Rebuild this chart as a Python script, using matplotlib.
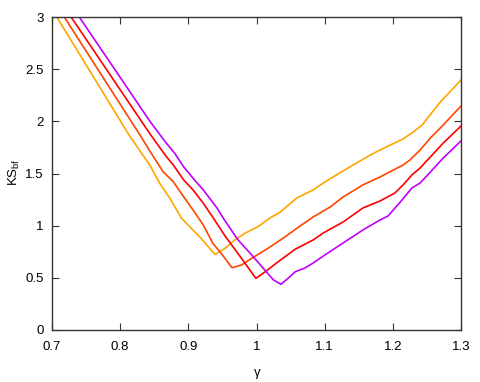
import matplotlib
matplotlib.use("Agg")
import matplotlib.pyplot as plt

# curve 1 (orange)
x_orange = [0.707, 0.813, 0.844, 0.858, 0.873, 0.890, 0.902, 0.917, 0.939, 0.954,
            0.968, 0.983, 1.002, 1.020, 1.035, 1.059, 1.083, 1.098, 1.122, 1.147,
            1.167, 1.181, 1.215, 1.230, 1.243, 1.258, 1.271, 1.300]
y_orange = [3.000, 1.869, 1.575, 1.406, 1.262, 1.071, 0.990, 0.890, 0.724, 0.783,
            0.863, 0.927, 0.990, 1.074, 1.131, 1.265, 1.342, 1.409, 1.505, 1.601,
            1.677, 1.725, 1.831, 1.898, 1.965, 2.090, 2.195, 2.396]

# curve 2 (orange-red)
x_orangered = [0.718, 0.829, 0.844, 0.863, 0.878, 0.893, 0.907, 0.922, 0.936, 0.949,
               0.964, 0.978, 0.993, 1.017, 1.042, 1.057, 1.083, 1.108, 1.127, 1.156,
               1.181, 1.215, 1.225, 1.240, 1.255, 1.274, 1.300]
y_orangered = [3.000, 1.869, 1.710, 1.517, 1.421, 1.278, 1.150, 1.006, 0.830, 0.728,
               0.597, 0.623, 0.687, 0.783, 0.894, 0.965, 1.083, 1.179, 1.275, 1.390,
               1.466, 1.581, 1.629, 1.725, 1.840, 1.965, 2.147]

# curve 3 (red)
x_red = [0.728, 0.844, 0.866, 0.878, 0.893, 0.907, 0.922, 0.937, 0.954, 0.978,
         0.999, 1.013, 1.032, 1.057, 1.083, 1.098, 1.127, 1.156, 1.181, 1.203,
         1.215, 1.228, 1.240, 1.255, 1.274, 1.300]
y_red = [3.000, 1.877, 1.677, 1.581, 1.440, 1.342, 1.214, 1.070, 0.900, 0.687,
         0.495, 0.559, 0.655, 0.775, 0.863, 0.930, 1.035, 1.169, 1.236, 1.313,
         1.390, 1.486, 1.553, 1.658, 1.792, 1.955]

# curve 4 (purple)
x_purple = [0.740, 0.844, 0.866, 0.880, 0.893, 0.907, 0.922, 0.942, 0.952, 0.973,
            0.993, 1.010, 1.025, 1.036, 1.049, 1.057, 1.071, 1.083, 1.098, 1.127,
            1.156, 1.181, 1.193, 1.211, 1.228, 1.240, 1.255, 1.274, 1.300]
y_purple = [3.000, 1.997, 1.805, 1.694, 1.565, 1.454, 1.342, 1.170, 1.064, 0.863,
            0.719, 0.591, 0.479, 0.438, 0.511, 0.559, 0.594, 0.642, 0.709, 0.834,
            0.958, 1.054, 1.093, 1.227, 1.361, 1.409, 1.514, 1.649, 1.812]

x_ticks = [0.7, 0.8, 0.9, 1.0, 1.1, 1.2, 1.3]
x_ticklabels = ["0.7", "0.8", "0.9", "1", "1.1", "1.2", "1.3"]
y_ticks = [0, 0.5, 1, 1.5, 2, 2.5, 3]
y_ticklabels = ["0", "0.5", "1", "1.5", "2", "2.5", "3"]

plt.rcParams["font.family"] = ["Liberation Sans", "DejaVu Sans"]
plt.rcParams["mathtext.fontset"] = "custom"
plt.rcParams["mathtext.rm"] = "Liberation Sans"

fig = plt.figure(figsize=(4.8, 3.82), dpi=100)
ax = fig.add_axes([52 / 480, 1 - 330 / 382, (461 - 52) / 480, (330 - 17) / 382])

ax.plot(x_orange, y_orange, color="#FFA500", lw=1.2)
ax.plot(x_orangered, y_orangered, color="#FF4500", lw=1.2)
ax.plot(x_red, y_red, color="#FF0000", lw=1.2)
ax.plot(x_purple, y_purple, color="#C000FF", lw=1.2)

ax.set_xlim(0.7, 1.3)
ax.set_ylim(0, 3)
ax.set_xticks(x_ticks)
ax.set_xticklabels(x_ticklabels)
ax.set_yticks(y_ticks)
ax.set_yticklabels(y_ticklabels)

ax.tick_params(direction="in", length=5, width=0.8, color="#333333",
               top=True, right=True, labelsize=9.5)
ax.tick_params(axis="x", pad=8)
ax.tick_params(axis="y", pad=6)
for s in ax.spines.values():
    s.set_color("#333333")
    s.set_linewidth(1.0)

fig.text(257 / 480, 1 - 373 / 382, "γ", fontsize=9.5, ha="center", va="center")
fig.text(14 / 480, 1 - 172 / 382, "KS$_{\\mathrm{bf}}$", fontsize=9.5,
         rotation=90, ha="center", va="center")

fig.savefig("out.png", dpi=100, facecolor="white")
